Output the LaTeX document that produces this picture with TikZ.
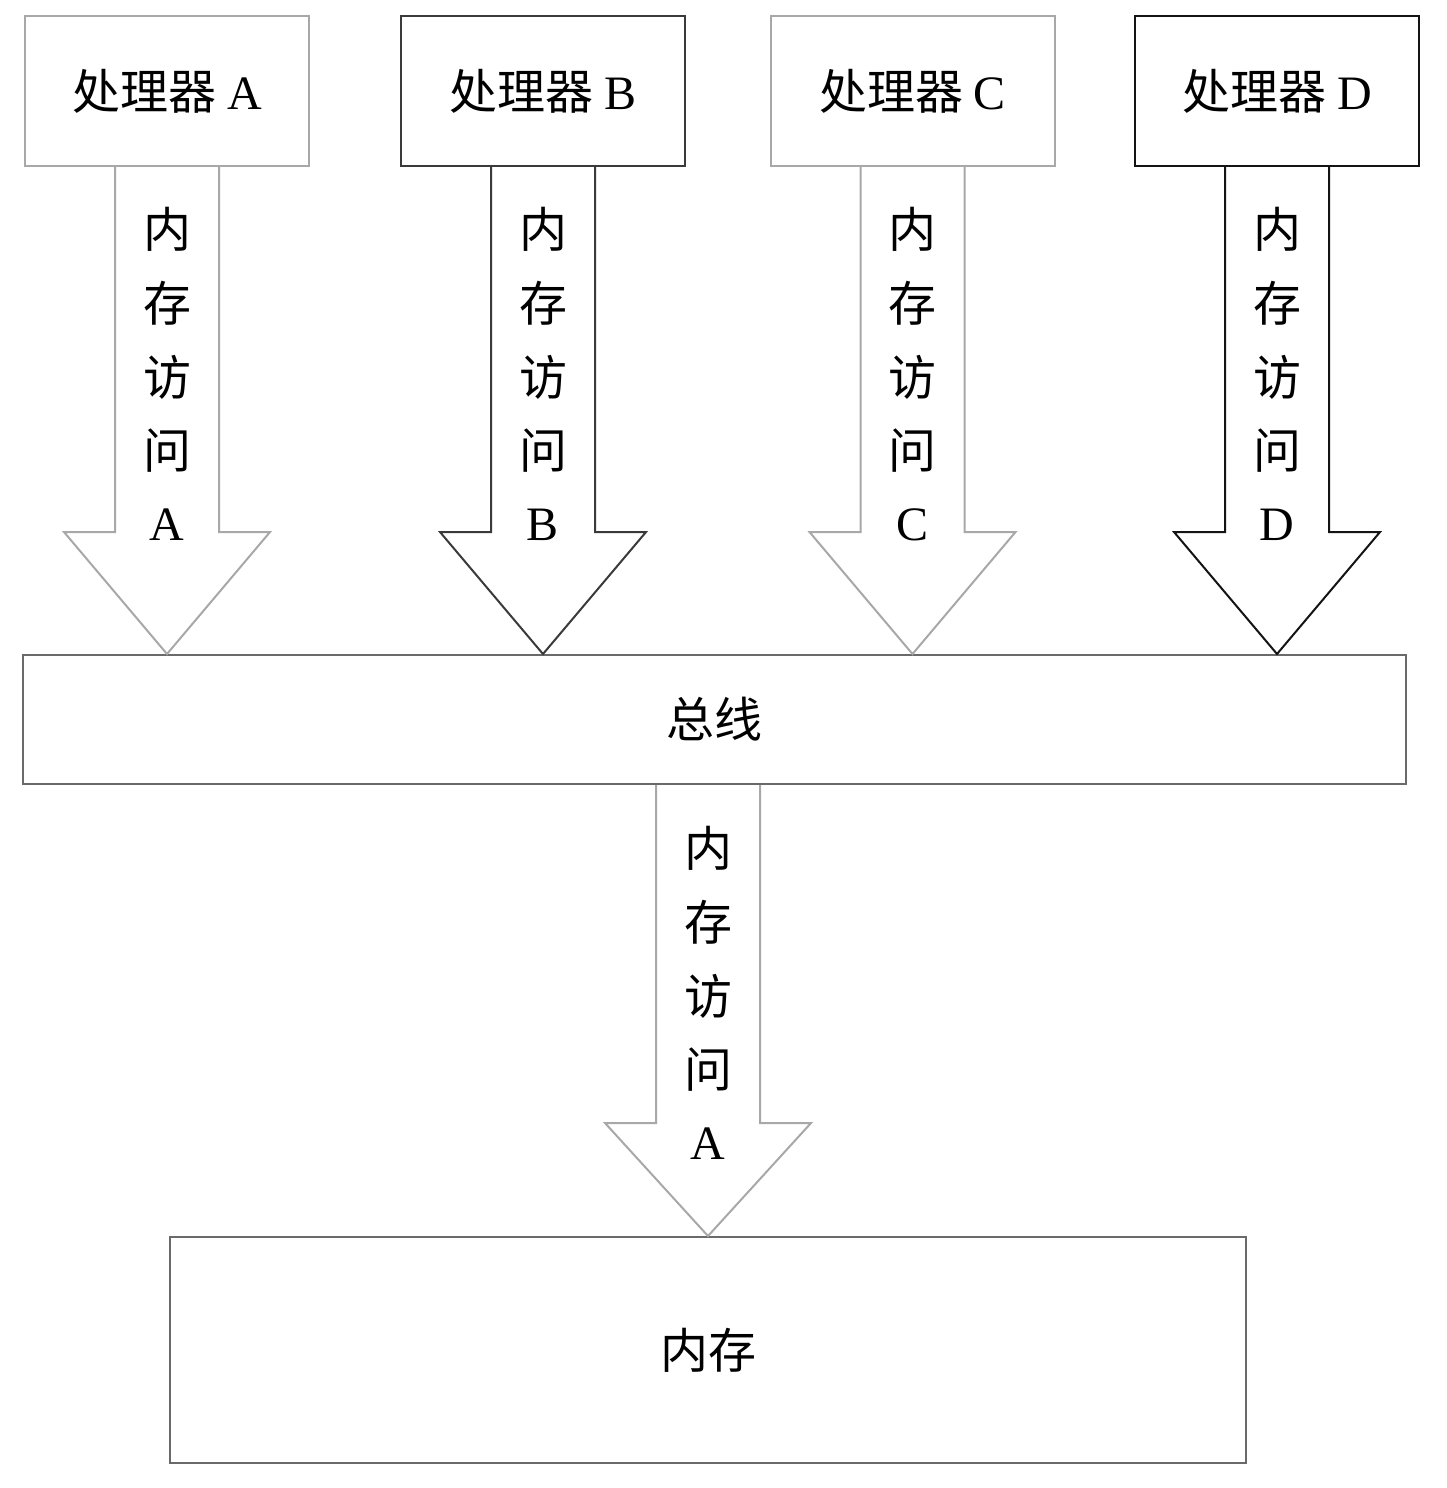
\documentclass[tikz,border=0pt]{standalone}
\usepackage{fontspec}
\setmainfont{Noto Sans CJK SC}
\newfontfamily\lat{Liberation Serif}
\usetikzlibrary{calc}
\definecolor{lite}{HTML}{A8A8A8}
\definecolor{mid}{HTML}{3A3A3A}
\definecolor{dark}{HTML}{141414}
\definecolor{busc}{HTML}{6A6A6A}

\begin{document}
\begin{tikzpicture}[
  x=0.5pt, y=-0.5pt,
  font=\fontsize{24}{28}\selectfont,
  box/.style={draw=#1, line width=1pt, fill=white, inner sep=0pt},
  proc/.style={box=#1, minimum width=142pt, minimum height=75pt},
  fat/.style={draw=#1, line width=1pt, line join=miter},
  ch/.style={inner sep=0pt}
]
\useasboundingbox (0,0) rectangle (1446,1488);

% ---- processors
\node[proc=lite] (pa) at (167,91)    {处理器 {\lat A}};
\node[proc=mid]  (pb) at (543,91)    {处理器 {\lat B}};
\node[proc=lite] (pc) at (912.5,91)  {处理器 {\lat C}};
\node[proc=dark] (pd) at (1277,91)   {处理器 {\lat D}};

% ---- bus and memory
\node[box=busc, minimum width=691.5pt, minimum height=64.5pt] (bus) at (714.5,719.5) {总线};
\node[box=busc, minimum width=538pt, minimum height=113pt] (mem) at (708,1350) {内存};

% ---- fat arrows processor -> bus
\foreach \n/\c in {pa/lite,pb/mid,pc/lite,pd/dark}
  \draw[fat=\c] ($(\n.south)+(-52,0)$) -- ($(\n.south |- bus.north)+(-52,-122)$) -- ++(-51,0)
    -- (\n.south |- bus.north) -- ++(103,-122) -- ++(-51,0) -- ($(\n.south)+(52,0)$);
\foreach \n/\l in {pa/A,pb/B,pc/C,pd/D}
  \foreach \ch [count=\i] in {内,存,访,问,{\lat \l}}
    \node[ch] (\n-\i) at ($(\n.south)+(0,62+74*\i-74)$) {\ch};

% ---- fat arrow bus -> memory
\draw[fat=lite] ($(bus.south -| mem.north)+(-52,0)$) -- ($(mem.north)+(-52,-113)$) -- ++(-51,0)
  -- (mem.north) -- ++(103,-113) -- ++(-51,0) -- ($(bus.south -| mem.north)+(52,0)$);
\foreach \ch [count=\i] in {内,存,访,问,{\lat A}}
  \node[ch] (m-\i) at ($(bus.south -| mem.north)+(0,63+74*\i-74)$) {\ch};
\end{tikzpicture}
\end{document}
